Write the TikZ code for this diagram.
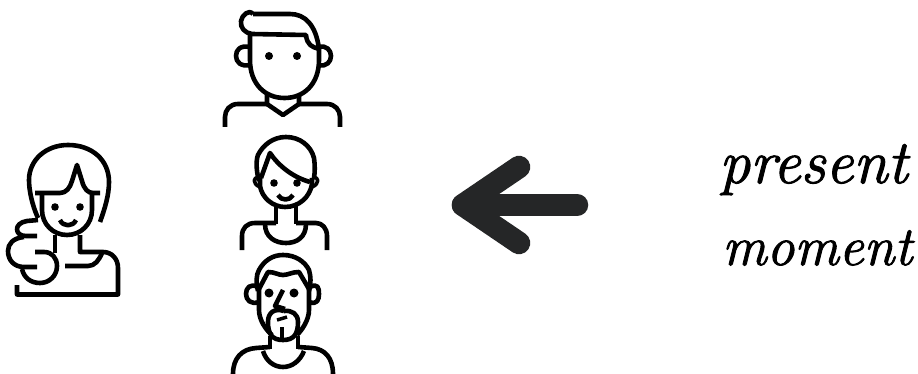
\documentclass[tikz,border=0pt]{standalone}
\usepackage{fontspec}
\setmainfont{Latin Modern Roman}[ItalicFeatures={FakeBold=1.6}]
\tikzset{
  line/.style={draw=black,line width=4.6pt,line cap=butt,line join=round},
  dot/.style={fill=black,draw=none},
  word/.style={inner sep=0pt,anchor=base west},
  bigword/.style={word,font=\fontsize{62}{62}\selectfont\itshape},
  smallword/.style={word,font=\fontsize{55.5}{56}\selectfont\itshape},
  bigarrow/.style={draw=arrowgrey,line width=22.5pt,line cap=round,line join=round}
}
\definecolor{arrowgrey}{HTML}{252627}
\begin{document}
\begin{tikzpicture}[x=1pt,y=-1pt]
\useasboundingbox (0,0) rectangle (918,374);
% top man
\draw[line] (250,34) -- (250,60) .. controls (250,84) and (265,98) .. (284.5,98) .. controls (304,98) and (319,84) .. (319,60) -- (319,48);
\draw[line] (253,14) -- (290,14) .. controls (305,14) and (316,25) .. (319,49) .. controls (312,47) and (307,45) .. (306,35) -- (252,34) .. controls (245,33) and (240,28) .. (241,21) .. controls (242,15) and (249,9) .. (253,14);
\draw[line] (250,47) .. controls (240,45) and (236,50) .. (236,56) .. controls (236,62) and (241,67) .. (250,65);
\draw[line] (319,47) .. controls (326,45) and (331,50) .. (331,56) .. controls (331,62) and (326,67) .. (319,65);
\fill[dot] (269,56) circle (4); \fill[dot] (297,56) circle (4);
\draw[line] (267,95) -- (267,104) -- (283,115) -- (299,104) -- (299,95);
\draw[line] (225,127) -- (225,117) .. controls (225,110) and (230,104) .. (238,104) -- (267,104);
\draw[line] (299,104) -- (327,104) .. controls (335,104) and (340,110) .. (340,117) -- (340,127);
% middle woman
\draw[line] (259,181) .. controls (256,170) and (256,160) .. (258,155) .. controls (263,145) and (273,137) .. (286,137) .. controls (300,137) and (311,146) .. (314,158) .. controls (315,165) and (315,172) .. (314,178);
\draw[line] (261,178) -- (270,153) .. controls (278,165) and (292,177) .. (310,182);
\draw[line] (260,178) -- (260,186) .. controls (262,198) and (273,207) .. (285,207) .. controls (299,207) and (310,197) .. (312,184) -- (312,178);
\draw[line,line width=3.6pt] (259,178) .. controls (253,176) and (252,184) .. (260,187);
\draw[line,line width=3.6pt] (313,178) .. controls (319,176) and (320,184) .. (312,187);
\fill[dot] (274,183) circle (3.8); \fill[dot] (297,183) circle (3.8);
\draw[line] (278,195) .. controls (281,201) and (290,201) .. (293,195);
\draw[line] (276,206) -- (276,224); \draw[line] (296,206) -- (296,224);
\draw[line] (265,224) .. controls (265,237) and (275,243) .. (286,243) .. controls (297,243) and (306,237) .. (306,224);
\draw[line] (242,250) -- (242,236) .. controls (242,228) and (247,223) .. (255,223) -- (276,223);
\draw[line] (296,223) -- (316,223) .. controls (322,223) and (327,228) .. (327,236) -- (327,250);
% bottom man
\draw[line] (258,291) .. controls (256,283) and (256,275) .. (259,270) .. controls (264,261) and (272,255) .. (283,255) .. controls (296,255) and (305,262) .. (309,270) .. controls (311,277) and (311,283) .. (309,291);
\draw[line] (259,289) -- (268,272) .. controls (275,272) and (278,275) .. (283,275) .. controls (288,275) and (292,272) .. (299,272) -- (309,289);
\draw[line] (259,288) -- (259,310) .. controls (259,320) and (266,330) .. (272,335);
\draw[line] (309,288) -- (309,310) .. controls (309,320) and (302,330) .. (297,335);
\draw[line] (258,287) .. controls (250,283) and (246,288) .. (246,294) .. controls (246,300) and (251,305) .. (259,302);
\draw[line] (310,287) .. controls (318,283) and (319,288) .. (319,294) .. controls (319,300) and (317,305) .. (309,302);
\fill[dot] (269,293) circle (4.5); \fill[dot] (294,293) circle (4.5);
\draw[line] (283,290) -- (275,306) -- (285,309);
\draw[line] (284,311) .. controls (275,308) and (268,312) .. (268,322) .. controls (268,334) and (272,340) .. (283,340) .. controls (294,340) and (298,334) .. (298,322) .. controls (298,314) and (292,310) .. (284,311);
\draw[line,line width=3.5pt] (277,320) -- (287,317);
\draw[line] (282,327) -- (282,338);
\draw[line] (270,336) -- (270,349); \draw[line] (298,336) -- (298,349);
\draw[line] (263,351) .. controls (266,361) and (274,367) .. (283,367) .. controls (292,367) and (300,361) .. (304,351);
\draw[line] (233,374) .. controls (233,358) and (242,349) .. (256,348) -- (270,347);
\draw[line] (298,347) -- (312,348) .. controls (325,349) and (333,358) .. (333,374);
% left woman
\draw[line] (38,218) .. controls (32,205) and (29,190) .. (29,180) .. controls (29,160) and (46,145) .. (68,145) .. controls (92,145) and (109,160) .. (109,182) .. controls (109,195) and (105,208) .. (100,222);
\draw[line] (35,193) -- (60,193) .. controls (66,193) and (70,188) .. (72,181) -- (77,165) -- (82,181) .. controls (84,189) and (88,193) .. (93,193) -- (100,193);
\draw[line] (42,194) -- (42,210) .. controls (42,224) and (53,235) .. (67,235) .. controls (81,235) and (92,224) .. (92,210) -- (92,194);
\fill[dot] (55,207) circle (3.8); \fill[dot] (80,207) circle (3.8);
\draw[line] (60,220) .. controls (63,227) and (73,227) .. (76,220);
\draw[line] (55,235) -- (55,253);
\draw[line] (80,235) -- (80,252) -- (103,252) .. controls (112,252) and (118,259) .. (118,268) -- (118,294.5) -- (17,294.5) -- (17,285);
\draw[line] (38,220) -- (27,221) .. controls (20,222) and (17,226) .. (17,229) .. controls (17,233) and (20,236) .. (26,236) -- (37,236);
\draw[line] (24,237) .. controls (13,238) and (8,244) .. (8,251) .. controls (8,260) and (14,267) .. (24,267) -- (37,267);
\draw[line] (35,252) -- (44,252) .. controls (52,252) and (57,258) .. (57,266) .. controls (57,276) and (49,283) .. (40,283) .. controls (31,283) and (24,278) .. (22,269);
\draw[line] (65,266) -- (88,266) .. controls (95,266) and (99,260) .. (102,253);
% arrow
\coordinate (shaftend) at (577,205);
\coordinate (tip) at (463,205);
\coordinate (armup) at (519,167);
\coordinate (armdown) at (519,243);
\draw[bigarrow] (armup) -- (tip) -- (armdown);
\draw[bigarrow] (tip) -- (shaftend);
% text
\node[bigword] (present) at (719,183) {present};
\node[smallword] (moment) at (722,265) {moment};
\end{tikzpicture}
\end{document}
